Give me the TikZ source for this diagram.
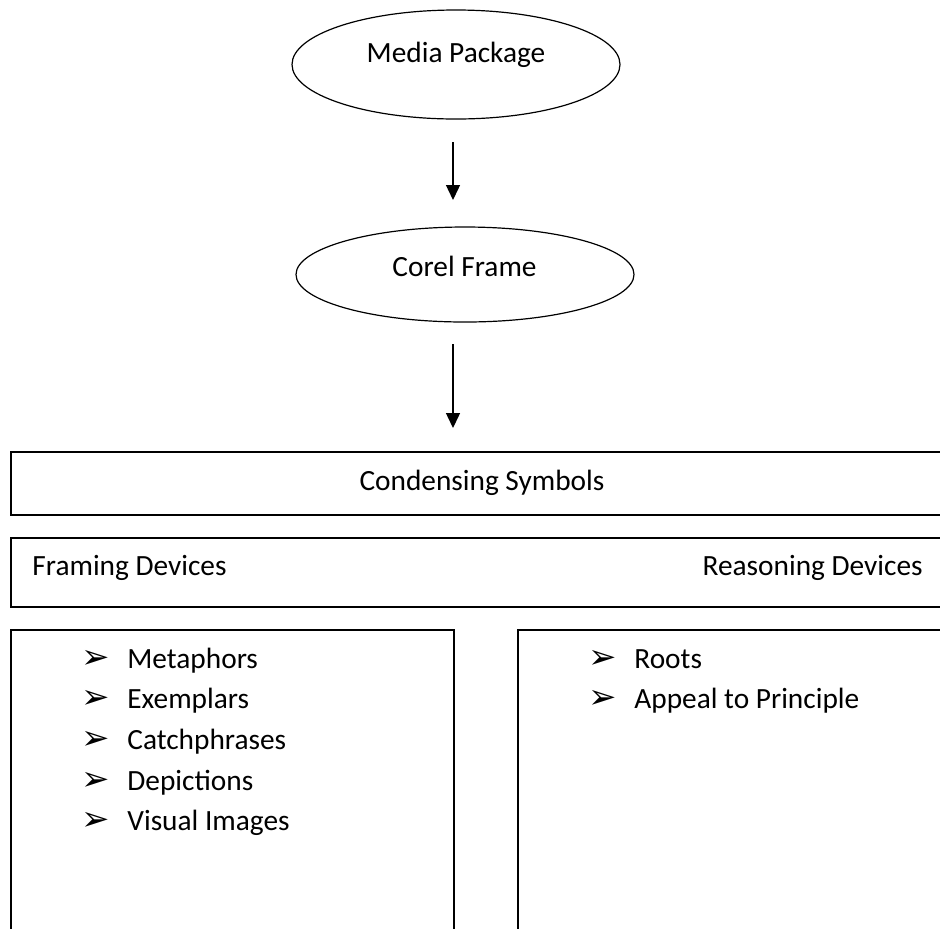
\documentclass[tikz,border=0pt]{standalone}
\usepackage{fontspec}
\setmainfont{Carlito}
\newfontfamily\bulletfont{DejaVu Sans}
\usetikzlibrary{shapes.geometric,arrows.meta}

\begin{document}
\begin{tikzpicture}
[x=0.5pt,y=-0.5pt,
  ellipseDecorate/.style={shape=ellipse,draw,line width=0.6pt,inner sep=0pt},%
  boxDecorate/.style={shape=rectangle,draw,line width=0.9pt,inner sep=0pt,anchor=north west},%
  textDecorate/.style={inner sep=0pt,font=\fontsize{14.67pt}{17pt}\selectfont},%
  bulletDecorate/.style={inner sep=0pt,anchor=base west,font=\fontsize{17pt}{19pt}\bulletfont},%
  arrowDecorate/.style={-{Triangle[width=7pt,length=7.5pt]},line width=0.7pt}]
\useasboundingbox (0,0) rectangle (940,928);
%%
%% ellipses and their texts
\node (media) at (456,64.5) [ellipseDecorate,minimum width=164pt,minimum height=54.5pt] {};
\node (corel) at (465,274.5) [ellipseDecorate,minimum width=169pt,minimum height=47.5pt] {};
\node (mediaText) at (456,62) [textDecorate,anchor=base] {Media Package};
\node (corelText) at (464.5,276) [textDecorate,anchor=base] {Corel Frame};
%%
%% boxes
\node (cond) at (10,451) [boxDecorate,minimum width=472pt,minimum height=31.5pt] {};
\node (dev) at (10,537) [boxDecorate,minimum width=472pt,minimum height=34.5pt] {};
\node (framing) at (10,629) [boxDecorate,minimum width=221.5pt,minimum height=155.5pt] {};
\node (reasoning) at (517,629) [boxDecorate,minimum width=221.5pt,minimum height=155.5pt] {};
\node (condText) at (482,490) [textDecorate,anchor=base] {Condensing Symbols};
\node (framingText) at (32,575) [textDecorate,anchor=base west] {Framing Devices};
\node (reasoningText) at (923,575) [textDecorate,anchor=base east] {Reasoning Devices};
%%
%% arrows
\coordinate (arrowOneStart) at (453,142);
\coordinate (arrowOneEnd) at (453,200);
\coordinate (arrowTwoStart) at (453,344);
\coordinate (arrowTwoEnd) at (453,428);
\draw[arrowDecorate] (arrowOneStart) -- (arrowOneEnd);
\draw[arrowDecorate] (arrowTwoStart) -- (arrowTwoEnd);
%%
%% bullet items
\foreach \itemname/\x/\y/\itemtext in {
  metaphors/81/668/Metaphors, exemplars/81/708/Exemplars,
  catchphrases/81/749/Catchphrases, depictions/81/790/Depictions,
  images/81/830/Visual Images, roots/588/668/Roots,
  principle/588/708/Appeal to Principle}
{
  \node (\itemname Bullet) at (\x,\y) [bulletDecorate] {➢};
  \node (\itemname) at (\x+46,\y) [textDecorate,anchor=base west] {\itemtext};
}
\end{tikzpicture}
\end{document}
